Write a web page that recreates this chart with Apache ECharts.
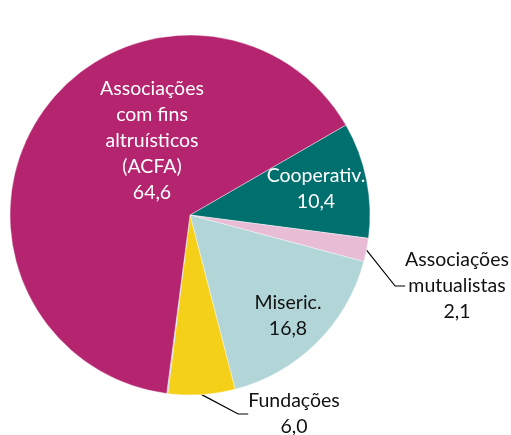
<!DOCTYPE html>
<html>
<head>
<meta charset="utf-8">
<script src="https://cdn.jsdelivr.net/npm/echarts@6/dist/echarts.min.js"></script>
<style>
  html, body {margin: 0; padding: 0; background: #fff;}
  #chart {width: 511px; height: 435px;}
</style>
</head>
<body>
<div id="chart"></div>
<script>
// valores (%)
const categories = ['Cooperativ.', 'Associações\nmutualistas', 'Miseric.', 'Fundações', 'Outras', 'Associações\ncom fins\naltruísticos\n(ACFA)'];
const values = [10.4, 2.1, 16.8, 6.0, 0.1, 64.6];
const colors = ['#00706F', '#E8BCD5', '#B2D5D7', '#F5D019', '#9DC3E6', '#B5246E'];

// onde fica cada rótulo (centro do bloco de texto)
const labelPos = [[316, 189], [457, 286], [288, 316], [294, 414], null, [152, 141]];
const outside = [false, true, false, true, false, false];
const darkText = [false, true, true, true, false, false];

const fmt = v => v.toFixed(1).replace('.', ',');

const chart = echarts.init(document.getElementById('chart'));

chart.setOption({
  animation: false,
  series: [{
    type: 'pie',
    center: [190, 215],
    radius: 180,
    startAngle: 30,
    clockwise: true,
    data: categories.map((name, i) => ({
      name: name,
      value: values[i],
      itemStyle: {color: colors[i]},
      label: {
        show: labelPos[i] !== null,
        position: outside[i] ? 'outside' : 'inside',
        color: darkText[i] ? '#111' : '#fff'
      },
      labelLine: {show: outside[i]}
    })),
    itemStyle: {borderColor: '#fff', borderWidth: 0.4},
    label: {
      fontFamily: 'Lato',
      fontSize: 19.5,
      lineHeight: 26,
      align: 'center',
      formatter: p => p.name + '\n' + fmt(p.value)
    },
    labelLine: {
      length: 18,
      length2: 10,
      lineStyle: {color: '#000', width: 1.2}
    },
    labelLayout: function (params) {
      const pos = labelPos[params.dataIndex];
      if (!pos) return {};
      return {x: pos[0], y: pos[1], align: 'center', verticalAlign: 'middle'};
    }
  }]
});
</script>
</body>
</html>
